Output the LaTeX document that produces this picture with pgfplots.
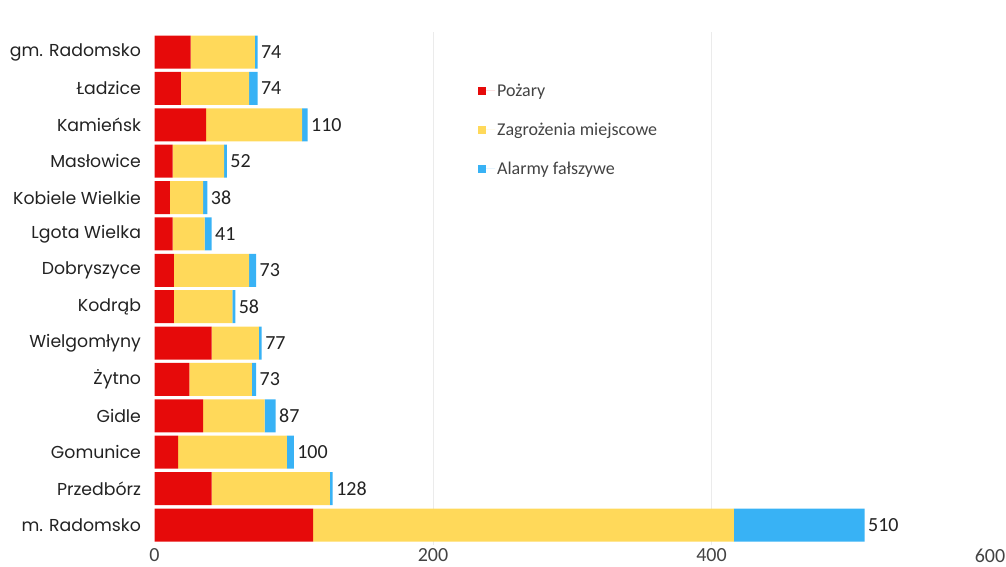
\documentclass[border=0pt]{standalone}
\usepackage{pgfplots}
\usepackage{pgfplotstable}
\pgfplotsset{compat=1.18}
\usepackage{fontspec}
\setmainfont{Carlito}
\newfontfamily\catfont{Poppins}
\definecolor{cred}{HTML}{E60A0A}
\definecolor{cyel}{HTML}{FFD95A}
\definecolor{cblue}{HTML}{38B2F5}
\definecolor{ctxt}{HTML}{222222}
\pgfplotstableread{
idx red yel blue total
0 26 46 2 74
1 19 49 6 74
2 37 69 4 110
3 13 37 2 52
4 11 24 3 38
5 13 23 5 41
6 14 54 5 73
7 14 42 2 58
8 41 34 2 77
9 25 45 3 73
10 35 44 8 87
11 17 78 5 100
12 41 85 2 128
13 114 302 94 510
}\data
\pgfplotsset{common/.style={
  at={(154.5pt,21pt)}, anchor=south west,
  scale only axis, width=835.5pt, height=513pt,
  xmin=0, xmax=600, ymin=-0.55, ymax=13.55, y dir=reverse,
  /pgf/number format/assume math mode=true,
  axis line style={draw=none},
  major tick length=0pt,
}}
\begin{document}
\begin{tikzpicture}
\useasboundingbox (0,0) rectangle (1006pt,566pt);
\begin{axis}[common,
  xbar stacked, bar width=33pt,
  xtick={0,200,400,600},
  extra x ticks={200,400}, extra x tick labels={},
  extra x tick style={grid=major, major tick length=0pt},
  grid style={color=black!8, line width=0.8pt},
  ytick={0,...,13},
  yticklabels={gm. Radomsko,Ładzice,Kamieńsk,Masłowice,Kobiele Wielkie,Lgota Wielka,Dobryszyce,Kodrąb,Wielgomłyny,Żytno,Gidle,Gomunice,Przedbórz,m. Radomsko},
  yticklabel style={font=\catfont\fontsize{17.3}{20}\selectfont, text=ctxt, xshift=-10pt},
  xticklabel style={font=\fontsize{20}{24}\selectfont, text=ctxt!85},
  legend style={at={(0.3836,0.907)}, anchor=north west, draw=none, fill=none,
    font=\fontsize{18}{21}\selectfont, text=ctxt!85, row sep=21pt, legend cell align=left},
  legend image code/.code={\fill[#1] (0pt,-4pt) rectangle (8pt,4pt); \path (0pt,0pt) -- (17pt,0pt);},
]
\addplot+[draw=none, fill=cred] table[x=red, y=idx] {\data};
\addlegendentry{Pożary}
\addplot+[draw=none, fill=cyel] table[x=yel, y=idx] {\data};
\addlegendentry{Zagrożenia miejscowe}
\addplot+[draw=none, fill=cblue] table[x=blue, y=idx] {\data};
\addlegendentry{Alarmy fałszywe}
\end{axis}
\begin{axis}[common, xtick=\empty, ytick=\empty]
\addplot[draw=none, mark=none, nodes near coords, point meta=explicit,
  nodes near coords style={anchor=west, font=\fontsize{20}{24}\selectfont, text=ctxt, xshift=0pt}]
  table[x=total, y=idx, meta=total] {\data};
\end{axis}
\end{tikzpicture}
\end{document}
